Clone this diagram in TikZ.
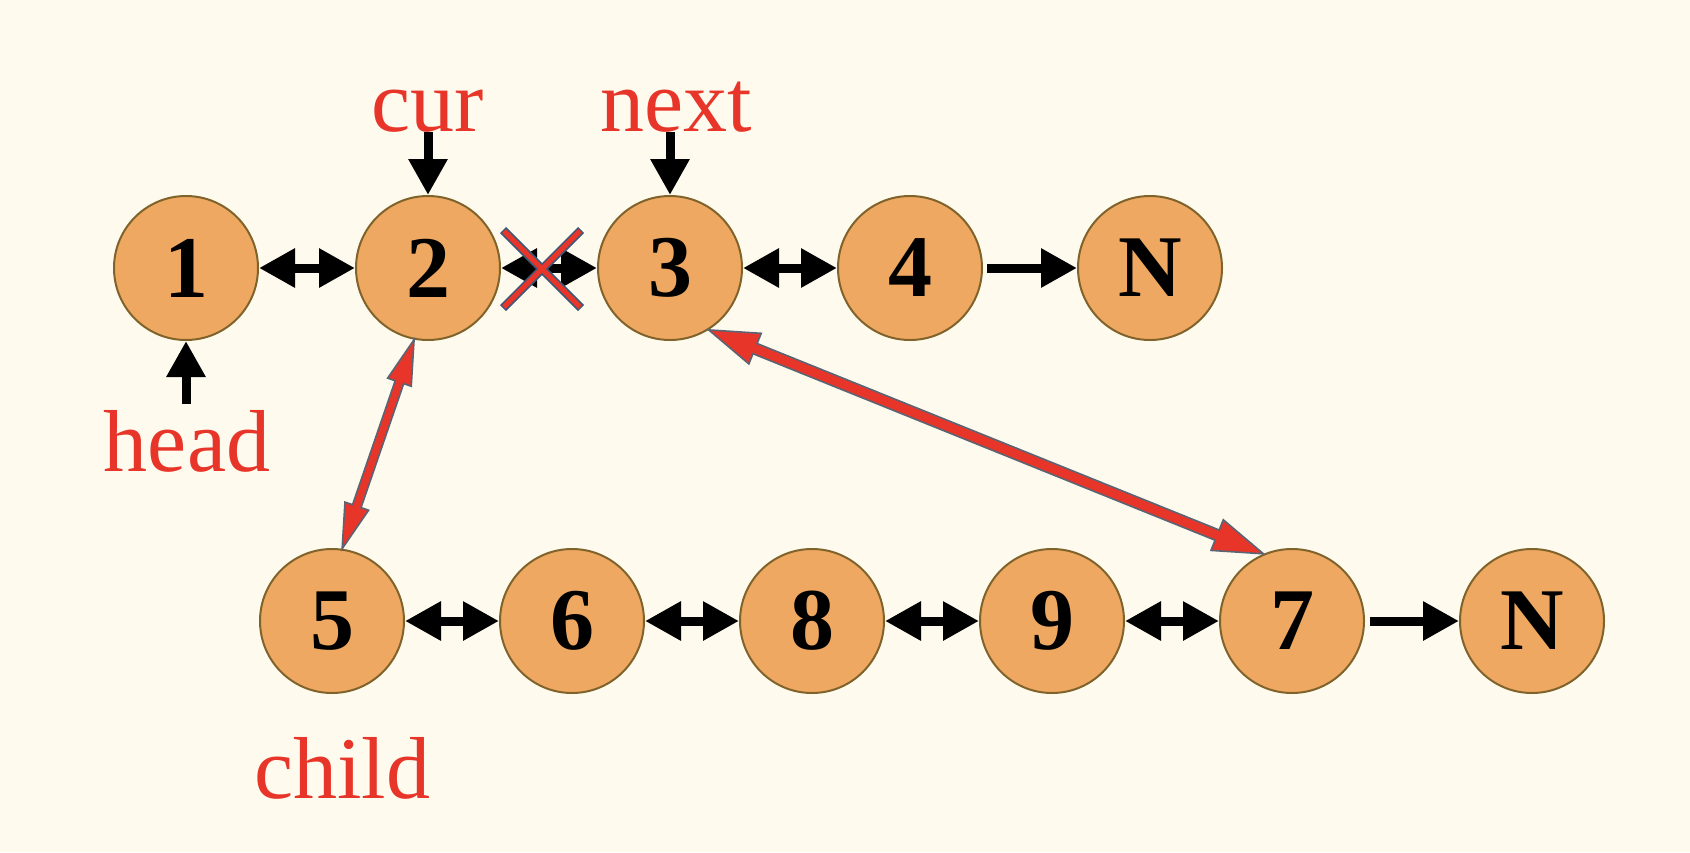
\documentclass[tikz,border=0pt]{standalone}
\usepackage{fontspec}
\setmainfont{Liberation Serif}
\usetikzlibrary{arrows.meta,calc}

\definecolor{paper}{HTML}{FEFBEE}
\definecolor{nodec}{HTML}{EEA862}
\definecolor{ringc}{HTML}{80632A}
\definecolor{redc}{HTML}{E8352A}
\definecolor{edgec}{HTML}{5B6472}
\definecolor{crossedge}{HTML}{3F5877}

% double-headed outlined pointer: tip A, tip B, head length, head half width, shaft half width
\newcommand\dualptr[5]{%
  \filldraw[redptr] (#1)
    -- ($(#1)!#3!(#2)!#4!90:(#2)$) -- ($(#1)!#3!(#2)!#5!90:(#2)$)
    -- ($(#2)!#3!(#1)!#5!-90:(#1)$) -- ($(#2)!#3!(#1)!#4!-90:(#1)$)
    -- (#2)
    -- ($(#2)!#3!(#1)!#4!90:(#1)$) -- ($(#2)!#3!(#1)!#5!90:(#1)$)
    -- ($(#1)!#3!(#2)!#5!-90:(#2)$) -- ($(#1)!#3!(#2)!#4!-90:(#2)$)
    -- cycle;}

\begin{document}
\begin{tikzpicture}[x=1pt,y=-1pt,
  item/.style={circle, draw=ringc, line width=2pt, fill=nodec, minimum size=144pt,
    inner sep=0pt, font=\fontsize{88}{88}\selectfont\bfseries},
  tag/.style={text=redc, inner sep=0pt, anchor=base, font=\fontsize{88}{88}\selectfont},
  link/.style={line width=9pt,
    arrows={Triangle[length=36pt,width=37pt]-Triangle[length=36pt,width=37pt]}},
  onelink/.style={line width=9pt, arrows={-Triangle[length=36pt,width=37pt]}},
  redptr/.style={fill=redc, draw=edgec, line width=1.6pt},
]
\fill[paper] (0,0) rectangle (1690,852);
\useasboundingbox (0,0) rectangle (1690,852);

% upper list
\node[item] (n1) at (186,268) {1};
\node[item] (n2) at (428,268) {2};
\node[item] (n3) at (670,268) {3};
\node[item] (n4) at (910,268) {4};
\node[item] (nA) at (1150,268) {N};

% child list
\node[item] (n5) at (332,621) {5};
\node[item] (n6) at (572,621) {6};
\node[item] (n8) at (812,621) {8};
\node[item] (n9) at (1052,621) {9};
\node[item] (n7) at (1292,621) {7};
\node[item] (nB) at (1532,621) {N};

% labels
\node[tag] (cur)   at (428,131) {cur};
\node[tag] (next)  at (676,131) {next};
\node[tag] (head)  at (187,471) {head};
\node[tag] (child) at (342,798) {child};

% black links
\draw[link] (n1) -- (n2);
\draw[link] (n2) -- (n3);
\draw[link] (n3) -- (n4);
\draw[onelink, shorten <=4pt] (n4) -- (nA);
\draw[link] (n5) -- (n6);
\draw[link] (n6) -- (n8);
\draw[link] (n8) -- (n9);
\draw[link] (n9) -- (n7);
\draw[onelink, shorten <=5pt] (n7) -- (nB);

% pointers
\draw[onelink] (cur.south -| n2) -- (n2.north);
\draw[onelink] (next.south -| n3) -- (n3.north);
\draw[onelink, shorten <=6pt] (head.north -| n1) -- (n1.south);

% red relinking arrows
\dualptr{n2.-101}{n5.82}{45pt}{12.5pt}{4.5pt}
\dualptr{n3.-58}{n7.113}{50pt}{16.5pt}{5.5pt}

% broken link mark
\coordinate (xc) at (542,269);
\draw[crossedge, line width=8.5pt] ([shift={(-39,-39)}]xc) -- ([shift={(39,39)}]xc);
\draw[crossedge, line width=8.5pt] ([shift={(39,-39)}]xc) -- ([shift={(-39,39)}]xc);
\draw[redc, line width=5pt] ([shift={(-38,-38)}]xc) -- ([shift={(38,38)}]xc);
\draw[redc, line width=5pt] ([shift={(38,-38)}]xc) -- ([shift={(-38,38)}]xc);
\end{tikzpicture}
\end{document}
